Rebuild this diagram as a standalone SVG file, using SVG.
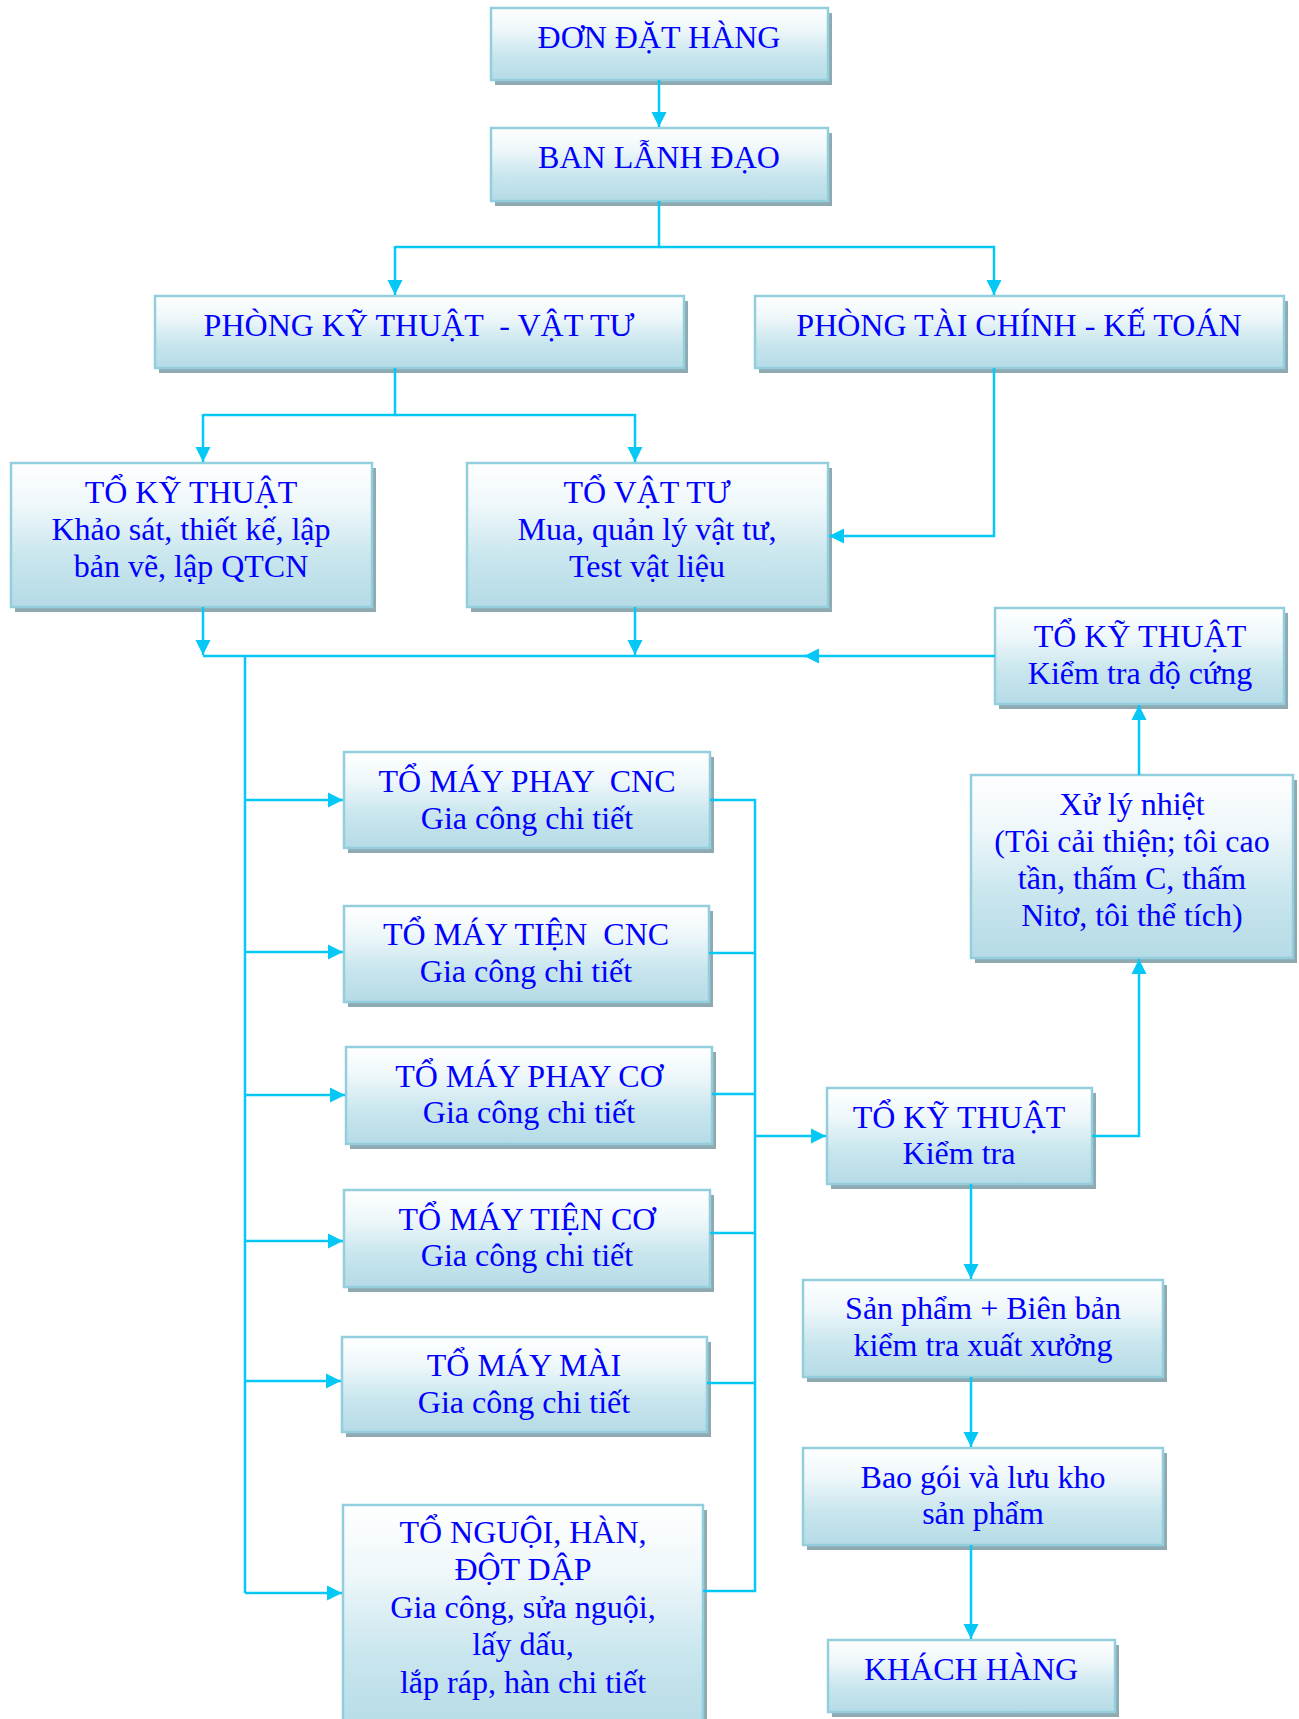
<svg xmlns="http://www.w3.org/2000/svg" width="1299" height="1719" viewBox="0 0 1299 1719">
<defs>
<linearGradient id="bg" x1="0" y1="0" x2="0" y2="1">
<stop offset="0" stop-color="#ffffff"/>
<stop offset="0.3" stop-color="#eef7fa"/>
<stop offset="0.65" stop-color="#c9e6ee"/>
<stop offset="1" stop-color="#b5dbe6"/>
</linearGradient>
<marker id="ah" markerWidth="16" markerHeight="16" refX="15" refY="8" orient="auto" markerUnits="userSpaceOnUse">
<path d="M0,0.5 L15,8 L0,15.5 z" fill="#05c8f7"/>
</marker>
<style>
.sh{fill:#8fa9b1}
.bx{fill:url(#bg);stroke:#93cedd;stroke-width:2.5}
text{font-family:"Liberation Serif","Times New Roman",serif;font-size:32px;fill:#0000ff;text-anchor:middle;white-space:pre}
.cn{fill:none;stroke:#05c8f7;stroke-width:2.5}
.ar{marker-end:url(#ah)}
</style>
</defs>
<rect width="1299" height="1719" fill="#ffffff"/>

<g id="don-dat-hang">
<rect class="sh" x="495" y="13" width="337" height="72"/>
<rect class="bx" x="491" y="8" width="337" height="72"/>
<text x="659" y="48">ĐƠN ĐẶT HÀNG</text>
</g>
<g id="ban-lanh-dao">
<rect class="sh" x="495" y="133" width="337" height="73"/>
<rect class="bx" x="491" y="128" width="337" height="73"/>
<text x="659" y="168">BAN LẪNH ĐẠO</text>
</g>
<g id="phong-ky-thuat">
<rect class="sh" x="159" y="301" width="529" height="72"/>
<rect class="bx" x="155" y="296" width="529" height="72"/>
<text x="419" y="336" xml:space="preserve">PHÒNG KỸ THUẬT  - VẬT TƯ</text>
</g>
<g id="phong-tai-chinh">
<rect class="sh" x="759" y="301" width="529" height="72"/>
<rect class="bx" x="755" y="296" width="529" height="72"/>
<text x="1019" y="336">PHÒNG TÀI CHÍNH - KẾ TOÁN</text>
</g>
<g id="to-ky-thuat-1">
<rect class="sh" x="15" y="468" width="361" height="144"/>
<rect class="bx" x="11" y="463" width="361" height="144"/>
<text x="191" y="503">TỔ KỸ THUẬT</text>
<text x="191" y="540">Khảo sát, thiết kế, lập</text>
<text x="191" y="577">bản vẽ, lập QTCN</text>
</g>
<g id="to-vat-tu">
<rect class="sh" x="471" y="468" width="361" height="144"/>
<rect class="bx" x="467" y="463" width="361" height="144"/>
<text x="647" y="503">TỔ VẬT TƯ</text>
<text x="647" y="540">Mua, quản lý vật tư,</text>
<text x="647" y="577">Test vật liệu</text>
</g>
<g id="to-ky-thuat-do-cung">
<rect class="sh" x="999" y="613" width="289" height="96"/>
<rect class="bx" x="995" y="608" width="289" height="96"/>
<text x="1140" y="647">TỔ KỸ THUẬT</text>
<text x="1140" y="684">Kiểm tra độ cứng</text>
</g>
<g id="to-may-phay-cnc">
<rect class="sh" x="348" y="757" width="366" height="96"/>
<rect class="bx" x="344" y="752" width="366" height="96"/>
<text x="527" y="792" xml:space="preserve">TỔ MÁY PHAY  CNC</text>
<text x="527" y="829">Gia công chi tiết</text>
</g>
<g id="to-may-tien-cnc">
<rect class="sh" x="348" y="911" width="365" height="96"/>
<rect class="bx" x="344" y="906" width="365" height="96"/>
<text x="526" y="945" xml:space="preserve">TỔ MÁY TIỆN  CNC</text>
<text x="526" y="982">Gia công chi tiết</text>
</g>
<g id="to-may-phay-co">
<rect class="sh" x="350" y="1052" width="366" height="97"/>
<rect class="bx" x="346" y="1047" width="366" height="97"/>
<text x="529" y="1087">TỔ MÁY PHAY CƠ</text>
<text x="529" y="1123">Gia công chi tiết</text>
</g>
<g id="to-may-tien-co">
<rect class="sh" x="348" y="1195" width="366" height="97"/>
<rect class="bx" x="344" y="1190" width="366" height="97"/>
<text x="527" y="1230">TỔ MÁY TIỆN CƠ</text>
<text x="527" y="1266">Gia công chi tiết</text>
</g>
<g id="to-may-mai">
<rect class="sh" x="346" y="1342" width="365" height="95"/>
<rect class="bx" x="342" y="1337" width="365" height="95"/>
<text x="524" y="1376">TỔ MÁY MÀI</text>
<text x="524" y="1413">Gia công chi tiết</text>
</g>
<g id="to-nguoi-han">
<rect class="sh" x="347" y="1510" width="360" height="230"/>
<rect class="bx" x="343" y="1505" width="360" height="230"/>
<text x="523" y="1543">TỔ NGUỘI, HÀN,</text>
<text x="523" y="1580">ĐỘT DẬP</text>
<text x="523" y="1618">Gia công, sửa nguội,</text>
<text x="523" y="1655">lấy dấu,</text>
<text x="523" y="1693">lắp ráp, hàn chi tiết</text>
</g>
<g id="to-ky-thuat-kiem-tra">
<rect class="sh" x="831" y="1093" width="265" height="96"/>
<rect class="bx" x="827" y="1088" width="265" height="96"/>
<text x="959" y="1128">TỔ KỸ THUẬT</text>
<text x="959" y="1164">Kiểm tra</text>
</g>
<g id="xu-ly-nhiet">
<rect class="sh" x="975" y="780" width="322" height="183"/>
<rect class="bx" x="971" y="775" width="322" height="183"/>
<text x="1132" y="815">Xử lý nhiệt</text>
<text x="1132" y="852">(Tôi cải thiện; tôi cao</text>
<text x="1132" y="889">tần, thấm C, thấm</text>
<text x="1132" y="926">Nitơ, tôi thể tích)</text>
</g>
<g id="san-pham">
<rect class="sh" x="807" y="1285" width="360" height="97"/>
<rect class="bx" x="803" y="1280" width="360" height="97"/>
<text x="983" y="1319">Sản phẩm + Biên bản</text>
<text x="983" y="1356">kiểm tra xuất xưởng</text>
</g>
<g id="bao-goi">
<rect class="sh" x="807" y="1453" width="360" height="97"/>
<rect class="bx" x="803" y="1448" width="360" height="97"/>
<text x="983" y="1488">Bao gói và lưu kho</text>
<text x="983" y="1524">sản phẩm</text>
</g>
<g id="khach-hang">
<rect class="sh" x="832" y="1645" width="287" height="72"/>
<rect class="bx" x="828" y="1640" width="287" height="72"/>
<text x="971" y="1680">KHÁCH HÀNG</text>
</g>

<g id="connectors">
<path class="cn ar" d="M659,80 V127"/>
<path class="cn" d="M659,201 V247 H395"/>
<path class="cn ar" d="M395,246 V295"/>
<path class="cn ar" d="M659,247 H994 V295"/>
<path class="cn" d="M395,368 V415 H203"/>
<path class="cn ar" d="M203,414 V462"/>
<path class="cn ar" d="M395,415 H635 V462"/>
<path class="cn ar" d="M994,368 V536 H829"/>
<path class="cn ar" d="M203,607 V655"/>
<path class="cn ar" d="M635,607 V655"/>
<path class="cn ar" d="M995,656 H804"/>
<path class="cn" d="M806,656 H203"/>
<path class="cn" d="M245,656 V1593"/>
<path class="cn ar" d="M245,800 H343"/>
<path class="cn ar" d="M245,952 H343"/>
<path class="cn ar" d="M245,1095 H345"/>
<path class="cn ar" d="M245,1241 H343"/>
<path class="cn ar" d="M245,1381 H341"/>
<path class="cn ar" d="M245,1593 H342"/>
<path class="cn" d="M710,800 H755 V1591 H703"/>
<path class="cn" d="M709,953 H755"/>
<path class="cn" d="M712,1094 H755"/>
<path class="cn" d="M710,1233 H755"/>
<path class="cn" d="M707,1383 H755"/>
<path class="cn ar" d="M755,1136 H826"/>
<path class="cn ar" d="M1092,1136 H1139 V959"/>
<path class="cn ar" d="M1139,775 V705"/>
<path class="cn ar" d="M971,1184 V1279"/>
<path class="cn ar" d="M971,1377 V1447"/>
<path class="cn ar" d="M971,1545 V1639"/>
</g>
</svg>
